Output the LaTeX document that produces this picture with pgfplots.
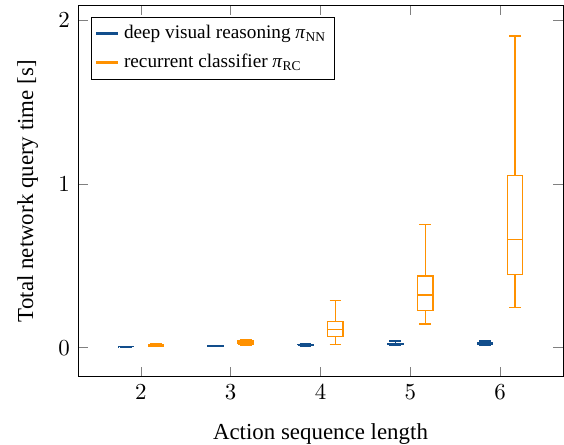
\documentclass[border=0pt]{standalone}
\usepackage{fontspec}
\setmainfont{Liberation Serif}
\usepackage{pgfplots}
\pgfplotsset{compat=1.18}
\definecolor{cblue}{RGB}{18,78,140}
\definecolor{corange}{RGB}{255,145,0}
\begin{document}
\begin{tikzpicture}
\useasboundingbox (-34.06pt,-29.83pt) rectangle (212.24pt,164.5pt);
\begin{axis}[
  anchor=south west, at={(0pt,0pt)},
  scale only axis,
  width=211.8pt, height=162pt,
  xmin=1.3, xmax=6.7,
  ymin=-0.177, ymax=2.087,
  xtick={2,3,4,5,6},
  ytick={0,1,2},
  xlabel={Action sequence length},
  ylabel={Total network query time [s]},
  xlabel style={yshift=-3.5pt},
  ylabel style={yshift=2pt},
  unbounded coords=jump,
  legend style={at={(0.027,0.9695)}, anchor=north west, font=\fontsize{8.4}{10}\selectfont, draw=black, inner sep=1.5pt, row sep=1.2pt},
  legend cell align=left,
  legend image code/.code={\draw[#1] (0cm,0cm) -- (0.33cm,0cm);},
  every axis plot/.append style={line width=0.55pt, line join=miter},
]
\addlegendimage{cblue, line width=1.3pt}
\addlegendentry{deep visual reasoning \textit{π}\textsubscript{NN}}
\addlegendimage{corange, line width=1.3pt}
\addlegendentry{recurrent classifier \textit{π}\textsubscript{RC}}
% deep visual reasoning (blue): lower whisker, lower quartile, median, upper quartile, upper whisker
\addplot[cblue, forget plot] coordinates {(1.748,0.005)(1.918,0.005)(1.918,0.007)(1.748,0.007)(1.748,0.005) (1.833,nan) (1.748,0.006)(1.918,0.006) (1.833,nan) (1.833,0.005)(1.833,0.003) (1.833,nan) (1.768,0.003)(1.898,0.003) (1.833,nan) (1.833,0.007)(1.833,0.009) (1.833,nan) (1.768,0.009)(1.898,0.009)};
\addplot[cblue, forget plot] coordinates {(2.748,0.008)(2.918,0.008)(2.918,0.010)(2.748,0.010)(2.748,0.008) (2.833,nan) (2.748,0.009)(2.918,0.009) (2.833,nan) (2.833,0.008)(2.833,0.005) (2.833,nan) (2.768,0.005)(2.898,0.005) (2.833,nan) (2.833,0.010)(2.833,0.012) (2.833,nan) (2.768,0.012)(2.898,0.012)};
\addplot[cblue, forget plot] coordinates {(3.748,0.014)(3.918,0.014)(3.918,0.020)(3.748,0.020)(3.748,0.014) (3.833,nan) (3.748,0.017)(3.918,0.017) (3.833,nan) (3.833,0.014)(3.833,0.008) (3.833,nan) (3.768,0.008)(3.898,0.008) (3.833,nan) (3.833,0.020)(3.833,0.026) (3.833,nan) (3.768,0.026)(3.898,0.026)};
\addplot[cblue, forget plot] coordinates {(4.748,0.018)(4.918,0.018)(4.918,0.026)(4.748,0.026)(4.748,0.018) (4.833,nan) (4.748,0.022)(4.918,0.022) (4.833,nan) (4.833,0.018)(4.833,0.012) (4.833,nan) (4.768,0.012)(4.898,0.012) (4.833,nan) (4.833,0.026)(4.833,0.040) (4.833,nan) (4.768,0.040)(4.898,0.040)};
\addplot[cblue, forget plot] coordinates {(5.748,0.020)(5.918,0.020)(5.918,0.030)(5.748,0.030)(5.748,0.020) (5.833,nan) (5.748,0.025)(5.918,0.025) (5.833,nan) (5.833,0.020)(5.833,0.014) (5.833,nan) (5.768,0.014)(5.898,0.014) (5.833,nan) (5.833,0.030)(5.833,0.040) (5.833,nan) (5.768,0.040)(5.898,0.040)};
% recurrent classifier (orange)
\addplot[corange, forget plot] coordinates {(2.082,0.011)(2.252,0.011)(2.252,0.016)(2.082,0.016)(2.082,0.011) (2.167,nan) (2.082,0.013)(2.252,0.013) (2.167,nan) (2.167,0.011)(2.167,0.008) (2.167,nan) (2.102,0.008)(2.232,0.008) (2.167,nan) (2.167,0.016)(2.167,0.022) (2.167,nan) (2.102,0.022)(2.232,0.022)};
\addplot[corange, forget plot] coordinates {(3.082,0.022)(3.252,0.022)(3.252,0.040)(3.082,0.040)(3.082,0.022) (3.167,nan) (3.082,0.028)(3.252,0.028) (3.167,nan) (3.167,0.022)(3.167,0.012) (3.167,nan) (3.102,0.012)(3.232,0.012) (3.167,nan) (3.167,0.040)(3.167,0.050) (3.167,nan) (3.102,0.050)(3.232,0.050)};
\addplot[corange, forget plot] coordinates {(4.082,0.067)(4.252,0.067)(4.252,0.159)(4.082,0.159)(4.082,0.067) (4.167,nan) (4.082,0.112)(4.252,0.112) (4.167,nan) (4.167,0.067)(4.167,0.018) (4.167,nan) (4.102,0.018)(4.232,0.018) (4.167,nan) (4.167,0.159)(4.167,0.286) (4.167,nan) (4.102,0.286)(4.232,0.286)};
\addplot[corange, forget plot] coordinates {(5.082,0.226)(5.252,0.226)(5.252,0.438)(5.082,0.438)(5.082,0.226) (5.167,nan) (5.082,0.322)(5.252,0.322) (5.167,nan) (5.167,0.226)(5.167,0.145) (5.167,nan) (5.102,0.145)(5.232,0.145) (5.167,nan) (5.167,0.438)(5.167,0.750) (5.167,nan) (5.102,0.750)(5.232,0.750)};
\addplot[corange, forget plot] coordinates {(6.082,0.445)(6.252,0.445)(6.252,1.050)(6.082,1.050)(6.082,0.445) (6.167,nan) (6.082,0.661)(6.252,0.661) (6.167,nan) (6.167,0.445)(6.167,0.247) (6.167,nan) (6.102,0.247)(6.232,0.247) (6.167,nan) (6.167,1.050)(6.167,1.902) (6.167,nan) (6.102,1.902)(6.232,1.902)};
\end{axis}
\end{tikzpicture}
\end{document}
